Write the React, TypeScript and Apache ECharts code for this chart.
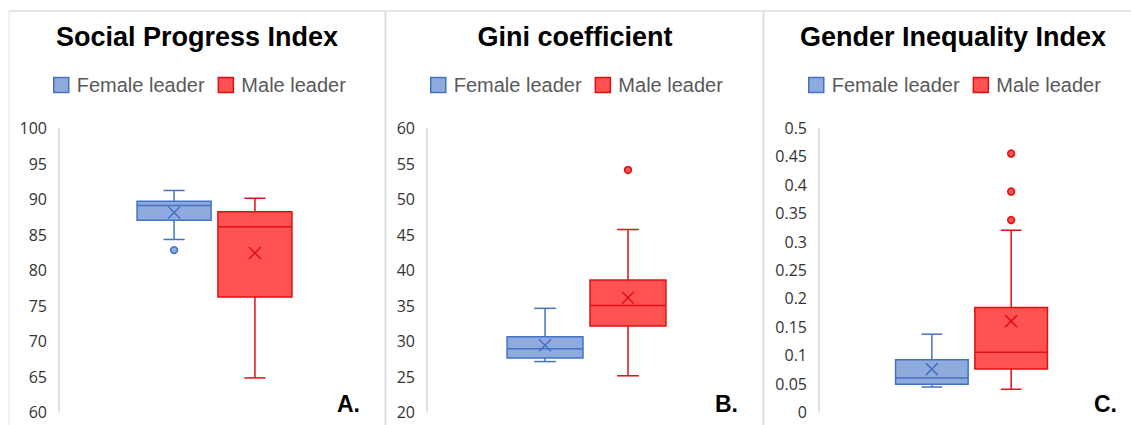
import React, { useEffect, useRef } from 'react';
import * as echarts from 'echarts';

// ---- data (stats order: min, q1, median, q3, max, mean) ----
const CATEGORIES = [''];
const SERIES_NAMES = ['Female leader', 'Male leader'];
const PANEL_TITLES = ['Social Progress Index', 'Gini coefficient', 'Gender Inequality Index'];
const PANEL_LETTERS = ['A.', 'B.', 'C.'];

const spiFemale = [84.3, 87.0, 89.1, 89.7, 91.2, 88.1];
const spiMale = [64.8, 76.2, 86.1, 88.2, 90.1, 82.4];
const spiFemaleOutliers = [82.8];
const spiMaleOutliers: number[] = [];

const giniFemale = [27.1, 27.6, 28.9, 30.6, 34.6, 29.4];
const giniMale = [25.1, 32.1, 35.0, 38.6, 45.7, 36.1];
const giniFemaleOutliers: number[] = [];
const giniMaleOutliers = [54.1];

const giiFemale = [0.044, 0.049, 0.06, 0.092, 0.137, 0.0755];
const giiMale = [0.04, 0.0755, 0.105, 0.184, 0.32, 0.16];
const giiFemaleOutliers: number[] = [];
const giiMaleOutliers = [0.338, 0.388, 0.455];

// y axis ranges: [min, max, interval]
const spiAxis = [60, 100, 5];
const giniAxis = [20, 60, 5];
const giiAxis = [0, 0.5, 0.05];

// ---- styles / layout ----
const FEMALE = { fill: '#8FAADC', stroke: '#4472C4' };
const MALE = { fill: '#FF5353', stroke: '#E01010' };
const FONT = '"Liberation Sans", Arial, sans-serif';

const panels = [
  { grid: { left: 59, top: 128, width: 311, height: 284 }, axis: spiAxis, data: [spiFemale, spiMale], outliers: [spiFemaleOutliers, spiMaleOutliers], titleX: 197, legendLeft: 53, letterX: 360 },
  { grid: { left: 427, top: 128, width: 319, height: 284 }, axis: giniAxis, data: [giniFemale, giniMale], outliers: [giniFemaleOutliers, giniMaleOutliers], titleX: 575, legendLeft: 430, letterX: 738 },
  { grid: { left: 819, top: 128, width: 305, height: 284 }, axis: giiAxis, data: [giiFemale, giiMale], outliers: [giiFemaleOutliers, giiMaleOutliers], titleX: 953, legendLeft: 808, letterX: 1117 },
];

const OFFSET = 0.13;
const BOX_W = 0.238;
const CAP_W = 0.068;

function boxRenderer(offsetFrac: number, colors: { fill: string; stroke: string }) {
  return (params: any, api: any) => {
    const band = api.size([1, 0])[0];
    const cx = api.coord([api.value(0), api.value(1)])[0] + offsetFrac * band;
    const y = (i: number) => api.coord([api.value(0), api.value(i)])[1];
    const yMin = y(1), yQ1 = y(2), yMed = y(3), yQ3 = y(4), yMax = y(5), yMean = y(6);
    const hw = (BOX_W * band) / 2;
    const hc = (CAP_W * band) / 2;
    const m = 6;
    const ls = { stroke: colors.stroke, lineWidth: 1.5 };
    return {
      type: 'group',
      children: [
        { type: 'line', shape: { x1: cx, y1: yMax, x2: cx, y2: yQ3 }, style: ls },
        { type: 'line', shape: { x1: cx, y1: yQ1, x2: cx, y2: yMin }, style: ls },
        { type: 'line', shape: { x1: cx - hc, y1: yMax, x2: cx + hc, y2: yMax }, style: ls },
        { type: 'line', shape: { x1: cx - hc, y1: yMin, x2: cx + hc, y2: yMin }, style: ls },
        { type: 'rect', shape: { x: cx - hw, y: yQ3, width: 2 * hw, height: yQ1 - yQ3 }, style: { fill: colors.fill, stroke: colors.stroke, lineWidth: 1.5 } },
        { type: 'line', shape: { x1: cx - hw, y1: yMed, x2: cx + hw, y2: yMed }, style: ls },
        { type: 'line', shape: { x1: cx - m, y1: yMean - m, x2: cx + m, y2: yMean + m }, style: ls },
        { type: 'line', shape: { x1: cx - m, y1: yMean + m, x2: cx + m, y2: yMean - m }, style: ls },
      ],
    };
  };
}

function outlierRenderer(offsetFrac: number, colors: { fill: string; stroke: string }) {
  return (params: any, api: any) => {
    const band = api.size([1, 0])[0];
    const p = api.coord([api.value(0), api.value(1)]);
    return {
      type: 'circle',
      shape: { cx: p[0] + offsetFrac * band, cy: p[1], r: 3.4 },
      style: { fill: colors.fill, stroke: colors.stroke, lineWidth: 1.6 },
    };
  };
}

function buildOption() {
  const grid: any[] = [];
  const xAxis: any[] = [];
  const yAxis: any[] = [];
  const legend: any[] = [];
  const series: any[] = [];
  const graphic: any[] = [];
  const colorsList = [FEMALE, MALE];
  const offsets = [-OFFSET, OFFSET];

  panels.forEach((p, i) => {
    grid.push({ ...p.grid });
    xAxis.push({
      type: 'category',
      gridIndex: i,
      data: CATEGORIES,
      axisLine: { show: false },
      axisTick: { show: false },
      axisLabel: { show: false },
      splitLine: { show: false },
    });
    const [mn, mx, iv] = p.axis;
    yAxis.push({
      type: 'value',
      gridIndex: i,
      min: mn,
      max: mx,
      interval: iv,
      axisLine: { show: true, lineStyle: { color: '#D9D9D9', width: 1.5 } },
      axisTick: { show: false },
      splitLine: { show: false },
      axisLabel: {
        color: '#333333',
        fontSize: 16,
        fontFamily: '"Open Sans", sans-serif',
        margin: 12,
        formatter: (v: number) => String(parseFloat(v.toFixed(3))),
      },
    });
    legend.push({
      left: p.legendLeft,
      top: 75,
      padding: 0,
      itemWidth: 15,
      itemHeight: 15,
      itemGap: 13,
      icon: 'rect',
      selectedMode: false,
      textStyle: { color: '#595959', fontSize: 20, fontFamily: FONT, padding: [0, 0, 0, 3] },
      data: SERIES_NAMES.map((n, k) => ({
        name: n,
        itemStyle: { color: colorsList[k].fill, borderColor: colorsList[k].stroke, borderWidth: 1.5 },
      })),
    });
    SERIES_NAMES.forEach((name, k) => {
      series.push({
        type: 'custom',
        name,
        xAxisIndex: i,
        yAxisIndex: i,
        itemStyle: { color: colorsList[k].fill, borderColor: colorsList[k].stroke },
        renderItem: boxRenderer(offsets[k], colorsList[k]),
        encode: { x: 0, y: [1, 2, 3, 4, 5, 6] },
        data: [[0, ...p.data[k]]],
        z: 2,
      });
      if (p.outliers[k].length) {
        series.push({
          type: 'custom',
          name,
          xAxisIndex: i,
          yAxisIndex: i,
          itemStyle: { color: colorsList[k].fill, borderColor: colorsList[k].stroke },
          renderItem: outlierRenderer(offsets[k], colorsList[k]),
          encode: { x: 0, y: 1 },
          data: p.outliers[k].map((v) => [0, v]),
          z: 3,
        });
      }
    });
    graphic.push({
      type: 'text',
      x: p.titleX,
      y: 37,
      style: { text: PANEL_TITLES[i], fontSize: 27, fontWeight: 'bold', fontFamily: FONT, fill: '#000', align: 'center', verticalAlign: 'middle' },
    });
    graphic.push({
      type: 'text',
      x: p.letterX,
      y: 404,
      style: { text: PANEL_LETTERS[i], fontSize: 23, fontWeight: 'bold', fontFamily: FONT, fill: '#000', align: 'right', verticalAlign: 'middle' },
    });
  });

  // panel frames
  graphic.push({ type: 'line', shape: { x1: 9, y1: 11, x2: 1131, y2: 11 }, style: { stroke: '#DDDDDD', lineWidth: 1.5 } });
  graphic.push({ type: 'line', shape: { x1: 9, y1: 11, x2: 9, y2: 425 }, style: { stroke: '#E6E6E6', lineWidth: 1 } });
  graphic.push({ type: 'line', shape: { x1: 385.5, y1: 11, x2: 385.5, y2: 425 }, style: { stroke: '#DDDDDD', lineWidth: 2 } });
  graphic.push({ type: 'line', shape: { x1: 763.5, y1: 11, x2: 763.5, y2: 425 }, style: { stroke: '#DDDDDD', lineWidth: 2 } });

  return {
    animation: false,
    backgroundColor: '#FFFFFF',
    grid,
    xAxis,
    yAxis,
    legend,
    series,
    graphic,
  };
}

export default function App() {
  const ref = useRef<HTMLDivElement>(null);
  useEffect(() => {
    if (!ref.current) return;
    const chart = echarts.init(ref.current, undefined, { renderer: 'svg' });
    chart.setOption(buildOption() as any);
    return () => chart.dispose();
  }, []);
  return <div ref={ref} style={{ position: 'fixed', left: 0, top: 0, width: 1131, height: 425 }} />;
}
